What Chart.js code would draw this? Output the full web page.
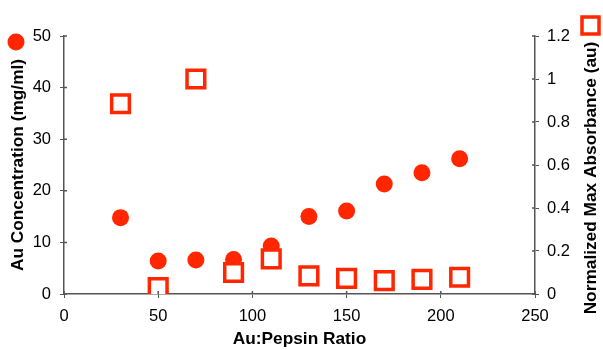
<!DOCTYPE html>
<html>
<head>
<meta charset="utf-8">
<script src="https://cdn.jsdelivr.net/npm/chart.js@4/dist/chart.umd.min.js"></script>
<style>
html,body{margin:0;padding:0;background:#fff;}
#wrap{width:603px;height:350px;position:relative;}
</style>
</head>
<body>
<div id="wrap"><canvas id="c" width="603" height="350"></canvas></div>
<script>
const ratios = [30, 50, 70, 90, 110, 130, 150, 170, 190, 210];
const auConcentration = [14.8, 6.4, 6.6, 6.7, 9.3, 15.0, 16.1, 21.3, 23.5, 26.2];
const normAbsorbance = [0.885, 0.03, 1.0, 0.10, 0.163, 0.084, 0.073, 0.062, 0.068, 0.078];
const xTicks = [0, 50, 100, 150, 200, 250];
const leftTicks = [0, 10, 20, 30, 40, 50];
const rightTicks = [0, 0.2, 0.4, 0.6, 0.8, 1, 1.2];
const rightTitle = 'Normalized Max Absorbance (au)';

const RED = 'rgb(255,38,0)';
const AXIS = '#555';
const FAMILY = 'Liberation Sans, Arial, sans-serif';
const tickFont = {family: FAMILY, size: 16.5};
const titleFont = {family: FAMILY, size: 17.3, weight: 'bold'};

const extras = {
  id: 'extras',
  afterDraw(chart) {
    const ctx = chart.ctx;
    ctx.save();
    // inward halves of tick marks
    ctx.strokeStyle = AXIS;
    ctx.lineWidth = 1.5;
    const xs = chart.scales.x, ys = chart.scales.y, y1 = chart.scales.y1;
    const area = chart.chartArea;
    ctx.beginPath();
    xs.ticks.forEach(t => { const p = xs.getPixelForValue(t.value); ctx.moveTo(p, area.bottom); ctx.lineTo(p, area.bottom - 3); });
    ys.ticks.forEach(t => { const p = ys.getPixelForValue(t.value); ctx.moveTo(area.left, p); ctx.lineTo(area.left + 3, p); });
    y1.ticks.forEach(t => { const p = y1.getPixelForValue(t.value); ctx.moveTo(area.right, p); ctx.lineTo(area.right - 3, p); });
    ctx.stroke();
    // legend markers
    ctx.fillStyle = RED;
    ctx.beginPath();
    ctx.arc(16, 42, 8.5, 0, Math.PI * 2);
    ctx.fill();
    ctx.strokeStyle = RED;
    ctx.lineWidth = 3.5;
    ctx.fillStyle = '#fff';
    ctx.fillRect(582, 17, 17, 17);
    ctx.strokeRect(582, 17, 17, 17);
    // right axis title, reading bottom-to-top
    ctx.translate(591.5, 178);
    ctx.rotate(-Math.PI / 2);
    ctx.fillStyle = '#000';
    ctx.font = 'bold 17.3px ' + FAMILY;
    ctx.textAlign = 'center';
    ctx.textBaseline = 'middle';
    ctx.fillText(rightTitle, 0, 0);
    ctx.restore();
  }
};

new Chart(document.getElementById('c'), {
  type: 'scatter',
  data: {
    datasets: [
      {
        label: 'Au Concentration',
        data: ratios.map((x, i) => ({x, y: auConcentration[i]})),
        yAxisID: 'y',
        pointStyle: 'circle',
        pointRadius: 8.5,
        pointBackgroundColor: RED,
        pointBorderColor: RED,
        pointBorderWidth: 0,
        order: 2
      },
      {
        label: 'Normalized Max Absorbance',
        data: ratios.map((x, i) => ({x, y: normAbsorbance[i]})),
        yAxisID: 'y1',
        pointStyle: 'rect',
        pointRadius: 12.5,
        pointBackgroundColor: '#fff',
        pointBorderColor: RED,
        pointBorderWidth: 3.5,
        order: 1
      }
    ]
  },
  options: {
    responsive: false,
    animation: false,
    layout: {padding: {top: 36, left: 0, right: 0, bottom: 0}},
    plugins: {legend: {display: false}, tooltip: {enabled: false}},
    scales: {
      x: {
        type: 'linear',
        min: 0, max: 250,
        afterBuildTicks: s => { s.ticks = xTicks.map(v => ({value: v})); },
        afterFit: s => { s.height = 56; },
        ticks: {font: tickFont, color: '#000', padding: 9, maxRotation: 0},
        grid: {drawOnChartArea: false, drawTicks: true, tickLength: 4, color: AXIS},
        border: {color: AXIS, width: 1.5},
        title: {display: true, text: 'Au:Pepsin Ratio', font: titleFont, color: '#000', padding: {top: 0, bottom: 0}}
      },
      y: {
        type: 'linear', position: 'left',
        min: 0, max: 50,
        afterBuildTicks: s => { s.ticks = leftTicks.map(v => ({value: v})); },
        afterFit: s => { s.width = 64; },
        ticks: {font: tickFont, color: '#000', padding: 9},
        grid: {drawOnChartArea: false, drawTicks: true, tickLength: 4, color: AXIS},
        border: {color: AXIS, width: 1.5},
        title: {display: true, text: 'Au Concentration (mg/ml)', font: titleFont, color: '#000', padding: {top: 7.5, bottom: 0}}
      },
      y1: {
        type: 'linear', position: 'right',
        min: 0, max: 1.2,
        afterBuildTicks: s => { s.ticks = rightTicks.map(v => ({value: v})); },
        afterFit: s => { s.width = 68; },
        ticks: {font: tickFont, color: '#000', padding: 8, callback: v => String(+(+v).toFixed(1))},
        grid: {drawOnChartArea: false, drawTicks: true, tickLength: 4, color: AXIS},
        border: {color: AXIS, width: 1.5},
        title: {display: false}
      }
    }
  },
  plugins: [extras]
});
</script>
</body>
</html>
